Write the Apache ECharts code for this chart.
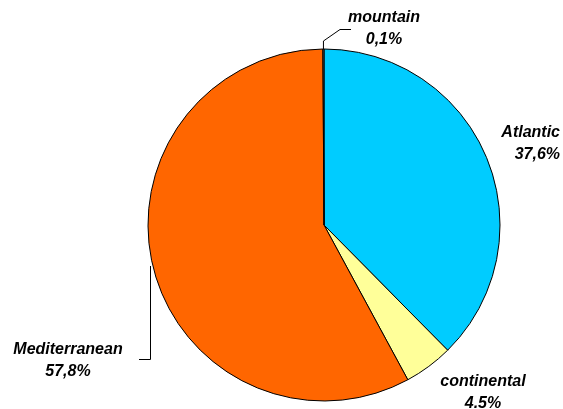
<!DOCTYPE html>
<html><head><meta charset="utf-8">
<script src="https://cdn.jsdelivr.net/npm/echarts@6/dist/echarts.min.js"></script>
<style>html,body{margin:0;padding:0;background:#fff}#c{width:563px;height:409px}</style>
</head><body><div id="c"></div>
<script>
const categories = ['Atlantic', 'continental', 'Mediterranean', 'mountain'];
const values = [37.6, 4.5, 57.8, 0.1];
const valueLabels = ['37,6%', '4.5%', '57,8%', '0,1%'];

const labelPlacement = [
  { x: 560, y: 144, align: 'right', line: false },
  { x: 483, y: 393, align: 'center', line: false },
  { x: 68, y: 361, align: 'center', line: true },
  { x: 384, y: 29, align: 'center', line: true }
];

const chart = echarts.init(document.getElementById('c'), null, { renderer: 'canvas' });
chart.setOption({
  animation: false,
  color: ['#00CCFF', '#FFFF99', '#FF6600', '#808080'],
  series: [{
    type: 'pie',
    center: [324, 225],
    radius: 176,
    startAngle: 90,
    clockwise: true,
    minAngle: 0,
    avoidLabelOverlap: false,
    emphasis: { disabled: true },
    itemStyle: { borderColor: '#000', borderWidth: 1 },
    data: categories.map((c, i) => ({
      name: c,
      value: values[i],
      labelLine: { show: labelPlacement[i].line }
    })),
    label: {
      show: true,
      position: 'outside',
      formatter: p => p.name + '\n' + valueLabels[p.dataIndex],
      fontFamily: 'Liberation Sans, Arial, sans-serif',
      fontSize: 16,
      fontWeight: 'bold',
      fontStyle: 'italic',
      color: '#000',
      lineHeight: 22
    },
    labelLine: {
      show: true,
      lineStyle: { color: '#000', width: 1 }
    },
    labelLayout: function (p) {
      const lp = labelPlacement[p.dataIndex];
      const res = { x: lp.x, y: lp.y, align: lp.align, verticalAlign: 'middle' };
      const start = p.labelLinePoints ? p.labelLinePoints[0] : null;
      if (start && p.dataIndex === 3) {
        res.labelLinePoints = [[start[0], start[1]], [start[0], 41], [340, 29.5], [351, 29.5]];
      } else if (start && p.dataIndex === 2) {
        res.labelLinePoints = [[150.5, 266], [150.5, 359.5], [139, 359.5]];
      }
      return res;
    }
  }]
});
</script>
</body></html>
